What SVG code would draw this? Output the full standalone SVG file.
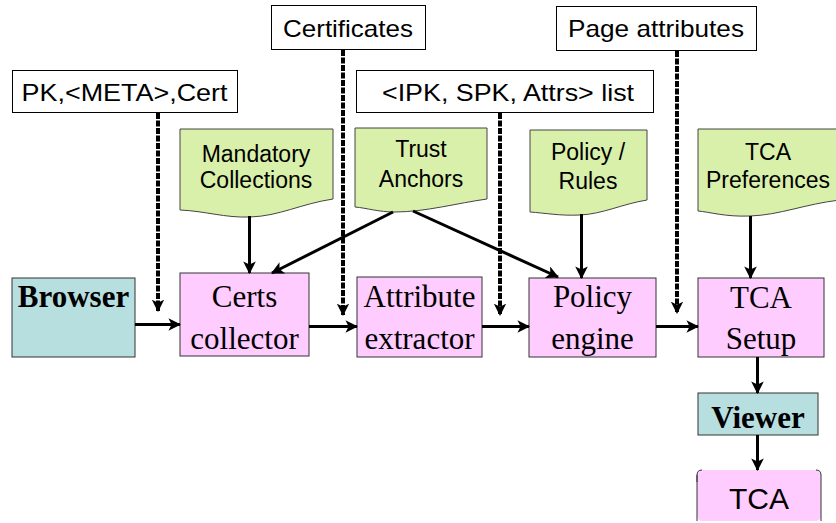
<svg xmlns="http://www.w3.org/2000/svg" width="836" height="523" viewBox="0 0 836 523">
  <style>
    .lbl { fill: #fff; stroke: #000; stroke-width: 1; }
    .doc { fill: #D9F0AB; stroke: #444; stroke-width: 1; }
    .proc { fill: #FFCCFF; stroke: #333; stroke-width: 1; }
    .ext { fill: #B7DFE0; stroke: #333; stroke-width: 1; }
    .sans { font-family: "Liberation Sans", Arial, sans-serif; fill: #000; text-anchor: middle; }
    .serif { font-family: "Liberation Serif", "Times New Roman", serif; fill: #000; text-anchor: middle; font-size: 31px; }
    .bold { font-weight: bold; }
    .flow { stroke: #000; stroke-width: 3; fill: none; marker-end: url(#ah); }
    .data { stroke: #000; stroke-width: 4; fill: none; stroke-dasharray: 6 1.5; marker-end: url(#ahd); }
  </style>
  <defs>
    <marker id="ah" viewBox="0 0 12 12" refX="11" refY="6" markerWidth="4.2" markerHeight="4.2" markerUnits="strokeWidth" orient="auto">
      <path d="M0,0 L12,6 L0,12 L3,6 z" fill="#000"/>
    </marker>
    <marker id="ahd" viewBox="0 0 12 12" refX="11" refY="6" markerWidth="3.1" markerHeight="3.1" markerUnits="strokeWidth" orient="auto">
      <path d="M0,0 L12,6 L0,12 L3,6 z" fill="#000"/>
    </marker>
  </defs>

  <!-- input labels -->
  <g id="lbl-pk">
    <rect class="lbl" x="12.5" y="70.5" width="225" height="42"/>
    <text class="sans" x="124.5" y="101" font-size="24" textLength="206" lengthAdjust="spacingAndGlyphs">PK,&lt;META&gt;,Cert</text>
  </g>
  <g id="lbl-certificates">
    <rect class="lbl" x="271.5" y="5.5" width="154" height="44"/>
    <text class="sans" x="348" y="37" font-size="24" textLength="130" lengthAdjust="spacingAndGlyphs">Certificates</text>
  </g>
  <g id="lbl-ipk">
    <rect class="lbl" x="356.5" y="70.5" width="297" height="42"/>
    <text class="sans" x="508" y="101" font-size="24" textLength="252" lengthAdjust="spacingAndGlyphs">&lt;IPK, SPK, Attrs&gt; list</text>
  </g>
  <g id="lbl-page">
    <rect class="lbl" x="556.5" y="6.5" width="200" height="44"/>
    <text class="sans" x="656" y="37" font-size="24" textLength="176" lengthAdjust="spacingAndGlyphs">Page attributes</text>
  </g>

  <!-- stored data documents -->
  <g id="doc-mandatory">
    <path class="doc" d="M180,129 H333 V199 C300,204 280,216 250,217 C225,218 205,211 180,210 Z"/>
    <text class="sans" x="256" y="162" font-size="23">Mandatory</text>
    <text class="sans" x="256" y="188" font-size="23">Collections</text>
  </g>
  <g id="doc-trust">
    <path class="doc" d="M355,128 H487 V199 C458,203 425,212 395,212 C378,212 367,208 355,207 Z"/>
    <text class="sans" x="421" y="157" font-size="23">Trust</text>
    <text class="sans" x="421" y="187" font-size="23">Anchors</text>
  </g>
  <g id="doc-policy">
    <path class="doc" d="M530,130 H647 V200 C622,204 603,214 580,215 C560,216 545,213 530,212 Z"/>
    <text class="sans" x="588" y="160" font-size="23">Policy /</text>
    <text class="sans" x="588" y="189" font-size="23">Rules</text>
  </g>
  <g id="doc-prefs">
    <path class="doc" d="M698,129 H840 V200 C805,204 780,215 750,216 C725,217 710,212 698,211 Z"/>
    <text class="sans" x="768" y="160" font-size="23">TCA</text>
    <text class="sans" x="768" y="188" font-size="23">Preferences</text>
  </g>

  <!-- components -->
  <g id="browser">
    <rect class="ext" x="12" y="278" width="123" height="79"/>
    <text class="serif bold" x="73.5" y="307">Browser</text>
  </g>
  <g id="certs-collector">
    <rect class="proc" x="180" y="273" width="129" height="83"/>
    <text class="serif" x="244.5" y="307">Certs</text>
    <text class="serif" x="244.5" y="349">collector</text>
  </g>
  <g id="attribute-extractor">
    <rect class="proc" x="357" y="277" width="125" height="80"/>
    <text class="serif" x="419.5" y="307">Attribute</text>
    <text class="serif" x="419.5" y="349">extractor</text>
  </g>
  <g id="policy-engine">
    <rect class="proc" x="529" y="278" width="127" height="79"/>
    <text class="serif" x="592.5" y="307">Policy</text>
    <text class="serif" x="592.5" y="349">engine</text>
  </g>
  <g id="tca-setup">
    <rect class="proc" x="698" y="278" width="126" height="79"/>
    <text class="serif" x="761" y="308">TCA</text>
    <text class="serif" x="761" y="349">Setup</text>
  </g>
  <g id="viewer">
    <rect class="ext" x="698" y="393" width="120" height="42"/>
    <text class="serif bold" x="758" y="428">Viewer</text>
  </g>
  <g id="tca">
    <rect x="697" y="470" width="124" height="51" rx="5" fill="#FFCCFF"/>
    <path d="M697,482 V475 Q697,470 702,470 M816,470 Q821,470 821,475 V521 M697,475 V521" fill="none" stroke="#333" stroke-width="1"/>
    <text class="sans" x="759" y="509" font-size="30">TCA</text>
  </g>

  <!-- connectors -->
  <g id="connectors">
    <line class="flow" x1="135" y1="324.5" x2="180" y2="324.5"/>
    <line class="flow" x1="309" y1="326.5" x2="357" y2="326.5"/>
    <line class="flow" x1="482" y1="326.5" x2="529" y2="326.5"/>
    <line class="flow" x1="656" y1="326.5" x2="698" y2="326.5"/>
    <line class="flow" x1="757.5" y1="357" x2="757.5" y2="393"/>
    <line class="flow" x1="757.5" y1="435" x2="757.5" y2="470"/>
    <line class="flow" x1="249.5" y1="216" x2="249.5" y2="273"/>
    <line class="flow" x1="393" y1="212" x2="272" y2="273"/>
    <line class="flow" x1="413" y1="211" x2="558" y2="277"/>
    <line class="flow" x1="581.5" y1="214" x2="581.5" y2="278"/>
    <line class="flow" x1="750.5" y1="216" x2="750.5" y2="278"/>
    <line class="data" x1="158" y1="113" x2="158" y2="311"/>
    <line class="data" x1="343" y1="50" x2="343" y2="315"/>
    <line class="data" x1="500" y1="113" x2="500" y2="315"/>
    <line class="data" x1="677" y1="51" x2="677" y2="313"/>
  </g>
</svg>
